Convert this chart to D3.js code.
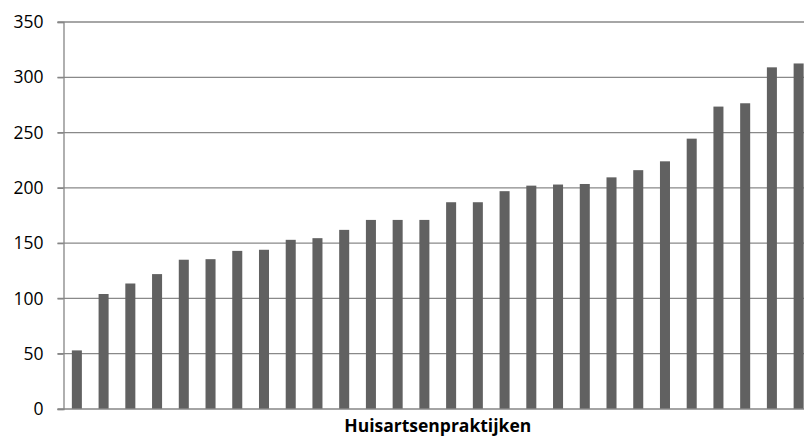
<!DOCTYPE html>
<html>
<head>
<meta charset="utf-8">
<script src="https://cdn.jsdelivr.net/npm/d3@7"></script>
<style>
  body { margin: 0; background: #fff; }
  svg { display: block; }
</style>
</head>
<body>
<svg id="chart"></svg>
<script>
// values, one per practice (sorted ascending)
const practices = d3.range(1, 29).map(i => "P" + i);
const patients = [53, 104, 113.5, 122, 135, 135.5, 143, 144, 153, 154.5, 162, 171, 171, 171,
                  187, 187, 197, 202, 203, 203.5, 209.5, 216, 224, 244.5, 273.5, 276.5, 309, 312.5];
const yTicks = [0, 50, 100, 150, 200, 250, 300, 350];
const xTitle = "Huisartsenpraktijken";

const width = 804;
const height = 437;
const margin = { top: 22, right: -8, bottom: 28, left: 63.5 };

const svg = d3.select("#chart")
    .attr("width", width)
    .attr("height", height);

const x = d3.scaleBand()
    .domain(practices)
    .range([margin.left, width - margin.right])
    .paddingInner(0.625)
    .paddingOuter(0.3125);

const y = d3.scaleLinear()
    .domain([0, 350])
    .range([height - margin.bottom, margin.top]);

// gridlines
svg.append("g")
    .selectAll("line")
    .data(yTicks.slice(1))
    .enter().append("line")
    .attr("x1", margin.left - 6)
    .attr("x2", width)
    .attr("y1", d => y(d))
    .attr("y2", d => y(d))
    .attr("stroke", "#898989")
    .attr("stroke-width", 1.3);

// bars
svg.append("g")
    .selectAll("rect")
    .data(patients)
    .enter().append("rect")
    .attr("x", (d, i) => x(practices[i]))
    .attr("width", x.bandwidth())
    .attr("y", d => y(d))
    .attr("height", d => y(0) - y(d))
    .attr("fill", "#616161");

// y axis
const yAxis = d3.axisLeft(y).tickValues(yTicks).tickSize(6).tickPadding(14);
const gy = svg.append("g")
    .attr("transform", "translate(" + margin.left + ",0)")
    .call(yAxis);
gy.select(".domain").attr("stroke", "#868686").attr("stroke-width", 1.3);
gy.selectAll(".tick line").attr("stroke", "#868686").attr("stroke-width", 1.3);
gy.selectAll(".tick text")
    .style("font-family", "'Open Sans', sans-serif")
    .style("font-size", "17.5px")
    .attr("fill", "#000");

// baseline
svg.append("line")
    .attr("x1", margin.left - 6)
    .attr("x2", width)
    .attr("y1", y(0))
    .attr("y2", y(0))
    .attr("stroke", "#868686")
    .attr("stroke-width", 1.3);

// x axis title
svg.append("text")
    .attr("x", (margin.left + width - margin.right) / 2)
    .attr("y", 432)
    .attr("text-anchor", "middle")
    .style("font-family", "'Open Sans', sans-serif")
    .style("font-size", "17.5px")
    .style("font-weight", "bold")
    .text(xTitle);
</script>
</body>
</html>
